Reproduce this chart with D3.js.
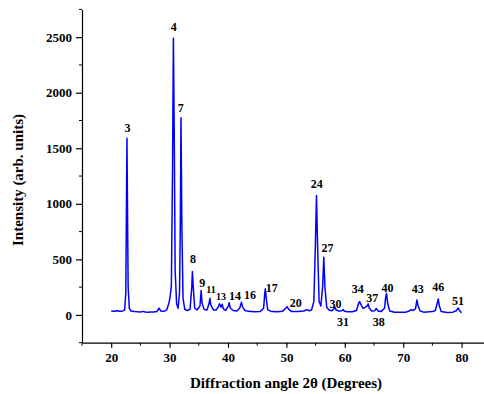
<!DOCTYPE html>
<html>
<head>
<meta charset="utf-8">
<script src="https://cdn.jsdelivr.net/npm/d3@7"></script>
<style>
  body { margin: 0; background: #fff; }
  svg text { font-family: "Liberation Serif", "Times New Roman", Times, serif; font-weight: bold; }
</style>
</head>
<body>
<div id="viz"></div>
<script>
// XRD pattern: [2theta, intensity]
const pattern = [
  [20.0,36],[20.5,34],[21.0,37],[21.5,33],[22.0,36],[22.3,45],[22.5,200],[22.6,900],[22.7,1590],[22.8,900],[22.9,250],[23.1,60],[23.4,35],
  [24.0,30],[24.5,28],[25.0,27],[25.5,32],[25.8,27],[26.3,25],[26.8,27],[27.3,26],[27.8,30],[28.2,60],[28.5,35],[29.0,32],[29.5,45],
  [29.9,110],[30.05,150],[30.3,260],[30.5,1300],[30.65,2490],[30.8,1600],[30.95,400],[31.2,100],[31.45,60],[31.7,200],[31.85,900],
  [31.95,1775],[32.1,800],[32.3,150],[32.6,50],[33.0,40],[33.5,50],[33.8,250],[33.9,390],[34.05,250],[34.3,60],[34.7,45],[35.2,80],
  [35.4,220],[35.55,110],[35.9,50],[36.4,45],[36.75,100],[36.9,150],[37.05,90],[37.5,45],[38.0,45],[38.4,80],[38.55,100],[38.8,70],
  [39.0,95],[39.2,55],[39.6,40],[40.05,80],[40.2,110],[40.4,60],[40.9,40],[41.5,35],[42.0,60],[42.3,115],[42.5,70],[42.9,40],[43.5,32],
  [44.5,28],[45.5,30],[46.1,60],[46.3,200],[46.4,235],[46.55,150],[46.8,45],[47.5,30],[48.5,28],[49.3,32],[49.8,55],[50.1,75],[50.4,50],
  [50.9,30],[52.0,30],[53.0,35],[53.5,48],[53.9,38],[54.3,45],[54.7,120],[54.95,600],[55.15,1075],[55.35,600],[55.6,120],[55.9,80],
  [56.2,250],[56.4,519],[56.6,250],[56.9,70],[57.3,45],[57.8,38],[58.2,60],[58.35,68],[58.5,45],[59.0,35],[59.5,38],[59.7,48],[59.95,33],
  [60.5,28],[61.3,28],[62.0,40],[62.4,110],[62.55,120],[62.8,90],[63.1,60],[63.4,65],[63.8,80],[64.0,99],[64.2,60],[64.6,35],[65.1,38],
  [65.4,57],[65.7,35],[66.2,30],[66.8,60],[67.0,160],[67.15,195],[67.35,100],[67.7,35],[68.5,25],[69.5,23],[70.5,25],[71.0,35],[71.35,48],
  [71.7,40],[72.1,55],[72.35,135],[72.55,80],[72.9,35],[73.5,25],[74.5,28],[75.0,30],[75.5,40],[75.8,100],[76.0,144],[76.2,80],[76.5,30],
  [77.5,22],[78.5,25],[79.1,38],[79.4,63],[79.7,35],[80.0,20]
]

// peak labels: [text, 2theta, intensity] where the label sits
const peakLabels = [
  ["3",22.8,1645],["4",30.7,2555],["7",31.9,1825],["8",34.0,465],["9",35.6,255],["11",37.1,195],["13",38.8,135],
  ["14",41.2,135],["16",43.75,144],["17",47.5,204],["20",51.6,68],["24",55.2,1144],["27",57.05,564],["30",58.4,63],
  ["31",59.7,-99],["34",62.2,195],["37",64.7,120],["38",65.8,-99],["40",67.3,204],["43",72.5,198],["46",76.0,213],["51",79.4,93]
]
const smallLabels = ["11", "13"]

const xDomain = [15, 85]
const yDomain = [-250, 2750]
const xMajor = [20, 30, 40, 50, 60, 70, 80]
const xMinor = [15, 25, 35, 45, 55, 65, 75]
const yMajor = [0, 500, 1000, 1500, 2000, 2500]
const yMinor = [-250, 250, 750, 1250, 1750, 2250, 2750]

const width = 484
const height = 394
const serif = "'Liberation Serif', 'Times New Roman', Times, serif"

const svg = d3.select("#viz").append("svg")
    .attr("width", width)
    .attr("height", height)
    .style("font-family", serif)

const x = d3.scaleLinear().domain(xDomain).range([82, 490.8])
const y = d3.scaleLinear().domain(yDomain).range([342.7, 9.4])

// x axis
const xAxis = svg.append("g").attr("transform", `translate(0,${y(yDomain[0])})`)
xAxis.call(d3.axisBottom(x).tickValues(xMajor).tickFormat(d3.format("d")).tickSize(5).tickSizeOuter(0).tickPadding(5))
xAxis.append("g").selectAll("line").data(xMinor).join("line")
    .attr("x1", d => x(d)).attr("x2", d => x(d))
    .attr("y1", 0).attr("y2", 3)
    .attr("stroke", "#000")

// y axis
const yAxis = svg.append("g").attr("transform", `translate(${x(xDomain[0])},0)`)
yAxis.call(d3.axisLeft(y).tickValues(yMajor).tickFormat(d3.format("d")).tickSize(6).tickSizeOuter(0).tickPadding(4))
yAxis.append("g").selectAll("line").data(yMinor).join("line")
    .attr("y1", d => y(d)).attr("y2", d => y(d))
    .attr("x1", 0).attr("x2", -3)
    .attr("stroke", "#000")

svg.selectAll("g").attr("font-family", null)
svg.selectAll(".domain").attr("stroke", "#000").attr("stroke-width", 1.2)
svg.selectAll(".tick line").attr("stroke", "#000").attr("stroke-width", 1.2)
svg.selectAll(".tick text")
    .style("font-family", serif)
    .attr("font-weight", "bold")
    .attr("font-size", 13)
    .attr("fill", "#000")

// curve
const line = d3.line().x(d => x(d[0])).y(d => y(d[1]))
svg.append("path")
    .datum(pattern)
    .attr("d", line)
    .attr("fill", "none")
    .attr("stroke", "#0000ff")
    .attr("stroke-width", 1.5)
    .attr("stroke-linejoin", "round")

// peak numbers
svg.append("g").selectAll("text").data(peakLabels).join("text")
    .attr("x", d => x(d[1]))
    .attr("y", d => y(d[2]))
    .attr("text-anchor", "middle")
    .attr("font-size", d => smallLabels.includes(d[0]) ? 10 : 12)
    .attr("fill", "#000")
    .text(d => d[0])

// titles
svg.append("text")
    .attr("x", 286)
    .attr("y", 388)
    .attr("text-anchor", "middle")
    .attr("font-size", 15)
    .text("Diffraction angle 2θ (Degrees)")

svg.append("text")
    .attr("transform", "translate(23,180) rotate(-90)")
    .attr("text-anchor", "middle")
    .attr("font-size", 15)
    .text("Intensity (arb. units)")
</script>
</body>
</html>
